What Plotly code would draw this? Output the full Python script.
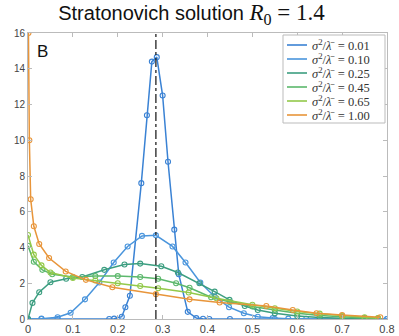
import plotly.graph_objects as go

labels = ["0.01", "0.10", "0.25", "0.45", "0.65", "1.00"]
colors = ["#3a82d4", "#4a95dc", "#3c9e80", "#5cb86c", "#93c94a", "#e8953a"]

x001 = [0.0, 0.03, 0.066, 0.181, 0.192, 0.209, 0.217, 0.227, 0.2525, 0.265, 0.276, 0.287,
        0.300, 0.312, 0.326, 0.336, 0.356, 0.375, 0.39, 0.404, 0.45, 0.55, 0.65, 0.8]
y001 = [0.0, 0.0, 0.0, 0.0, 0.02, 0.13, 0.66, 1.3, 7.6, 11.4, 14.4, 14.65,
        12.5, 8.8, 5.0, 2.5, 0.4, 0.05, 0.01, 0.0, 0.0, 0.0, 0.0, 0.0]

x010 = [0.0, 0.03, 0.066, 0.095, 0.127, 0.159, 0.191, 0.222, 0.254, 0.285, 0.322, 0.351,
        0.384, 0.416, 0.448, 0.481, 0.512, 0.545, 0.58, 0.62, 0.7, 0.8]
y010 = [0.0, 0.02, 0.1, 0.35, 1.1, 2.04, 3.16, 4.06, 4.65, 4.68, 4.06, 3.16,
        2.04, 1.25, 0.66, 0.32, 0.13, 0.05, 0.02, 0.01, 0.0, 0.0]

x025 = [0.0, 0.01, 0.025, 0.05, 0.085, 0.121, 0.17, 0.215, 0.25, 0.297, 0.334, 0.382,
        0.416, 0.449, 0.483, 0.512, 0.55, 0.6, 0.65, 0.7, 0.75, 0.78]
y025 = [0.0, 0.9, 1.5, 2.06, 2.25, 2.35, 2.75, 3.05, 3.1, 2.95, 2.6, 2.0,
        1.53, 1.07, 0.73, 0.5, 0.32, 0.17, 0.08, 0.04, 0.02, 0.01]

x045 = [0.0, 0.013, 0.032, 0.054, 0.1, 0.15, 0.2, 0.25, 0.29, 0.33, 0.36, 0.408,
        0.45, 0.5, 0.55, 0.6, 0.65, 0.7, 0.75, 0.78]
y045 = [4.1, 3.2, 2.75, 2.5, 2.35, 2.4, 2.4, 2.35, 2.25, 2.0, 1.75, 1.22,
        0.95, 0.7, 0.5, 0.32, 0.2, 0.12, 0.06, 0.04]

x065 = [0.0, 0.013, 0.03, 0.05, 0.1, 0.15, 0.2, 0.25, 0.29, 0.358, 0.42, 0.5,
        0.55, 0.6, 0.65, 0.7, 0.75, 0.78]
y065 = [4.7, 3.6, 3.0, 2.6, 2.3, 2.15, 2.0, 1.85, 1.72, 1.48, 1.16, 0.8,
        0.6, 0.42, 0.3, 0.18, 0.1, 0.06]

x100 = [0.001, 0.003, 0.006, 0.013, 0.025, 0.047, 0.084, 0.129, 0.188, 0.285, 0.36, 0.427,
        0.531, 0.59, 0.643, 0.70, 0.785]
y100 = [16.0, 10.0, 6.7, 5.19, 4.2, 3.41, 2.66, 2.19, 1.78, 1.39, 1.1, 0.92,
        0.73, 0.5, 0.32, 0.22, 0.1]

series_x = [x001, x010, x025, x045, x065, x100]
series_y = [y001, y010, y025, y045, y065, y100]

peak_x = 0.285
x_ticks = [0, 0.1, 0.2, 0.3, 0.4, 0.5, 0.6, 0.7, 0.8]
x_tick_text = ["0", "0.1", "0.2", "0.3", "0.4", "0.5", "0.6", "0.7", "0.8"]
y_ticks = [0, 2, 4, 6, 8, 10, 12, 14, 16]

W, H = 399, 336
ML, MR, MT, MB = 28, 12, 33, 17
PW, PH = W - ML - MR, H - MT - MB


def px2x(px):
    return (px - ML) / PW


def py2y(py):
    return (H - MB - py) / PH


fig = go.Figure()
for lab, col, xs, ys in zip(labels, colors, series_x, series_y):
    fig.add_trace(go.Scatter(
        x=xs, y=ys, mode="lines+markers",
        line=dict(color=col, width=1.5),
        marker=dict(symbol="circle-open", size=5, color=col, line=dict(width=1.1, color=col)),
        showlegend=False, hoverinfo="skip",
    ))

fig.add_trace(go.Scatter(
    x=[peak_x, peak_x], y=[0, 16], mode="lines",
    line=dict(color="#222222", width=1.3, dash="dashdot"),
    showlegend=False, hoverinfo="skip",
))

shapes = []
annotations = []
# manual legend box
shapes.append(dict(type="rect", xref="paper", yref="paper",
                   x0=px2x(283), x1=px2x(385), y0=py2y(123), y1=py2y(35),
                   line=dict(color="#bbbbbb", width=1), fillcolor="white", layer="above"))
for i, (lab, col) in enumerate(zip(labels, colors)):
    py = 45 + 14 * i
    shapes.append(dict(type="line", xref="paper", yref="paper",
                       x0=px2x(287), x1=px2x(307), y0=py2y(py), y1=py2y(py),
                       line=dict(color=col, width=1.6), layer="above"))
    annotations.append(dict(
        x=px2x(310), y=py2y(py), xref="paper", yref="paper",
        text="<i>σ</i><sup>2</sup>/<i>λ̄</i>&nbsp;&nbsp;=&nbsp;" + lab, showarrow=False,
        xanchor="left", yanchor="middle",
        font=dict(family="Liberation Serif, DejaVu Serif", size=12.5, color="#333333"),
    ))

annotations.append(dict(
    x=0.02, y=0.975, xref="paper", yref="paper", text="B", showarrow=False,
    xanchor="left", yanchor="top",
    font=dict(family="Liberation Sans, Arial", size=17, color="#111111"),
))

fig.update_layout(
    width=W, height=H,
    margin=dict(l=ML, r=MR, t=MT, b=MB, autoexpand=False),
    paper_bgcolor="white", plot_bgcolor="white",
    title=dict(
        text="Stratonovich solution&nbsp;<span style=\"font-family:'Liberation Serif';font-size:23px\"><i>R</i><sub>0</sub>&nbsp;=&nbsp;1.4</span>",
        x=0.48, xanchor="center", y=0.962, yanchor="middle",
        font=dict(family="Liberation Sans, Arial", size=20, color="#111111"),
    ),
    showlegend=False,
    shapes=shapes,
    annotations=annotations,
    font=dict(family="Liberation Sans, Arial", size=10, color="#444444"),
)

fig.update_xaxes(
    range=[0, 0.8], tickvals=x_ticks, ticktext=x_tick_text, automargin=False,
    showgrid=False, zeroline=False,
    showline=True, linecolor="#bbbbbb", linewidth=1, mirror="ticks",
    ticks="inside", ticklen=4, tickcolor="#bbbbbb",
    tickfont=dict(size=11, color="#444444"),
)
fig.update_yaxes(
    range=[0, 16], tickvals=y_ticks, automargin=False,
    showgrid=False, zeroline=False,
    showline=True, linecolor="#bbbbbb", linewidth=1, mirror="ticks",
    ticks="inside", ticklen=4, tickcolor="#bbbbbb",
    tickfont=dict(size=10, color="#444444"),
)

fig.write_html("out.html")
